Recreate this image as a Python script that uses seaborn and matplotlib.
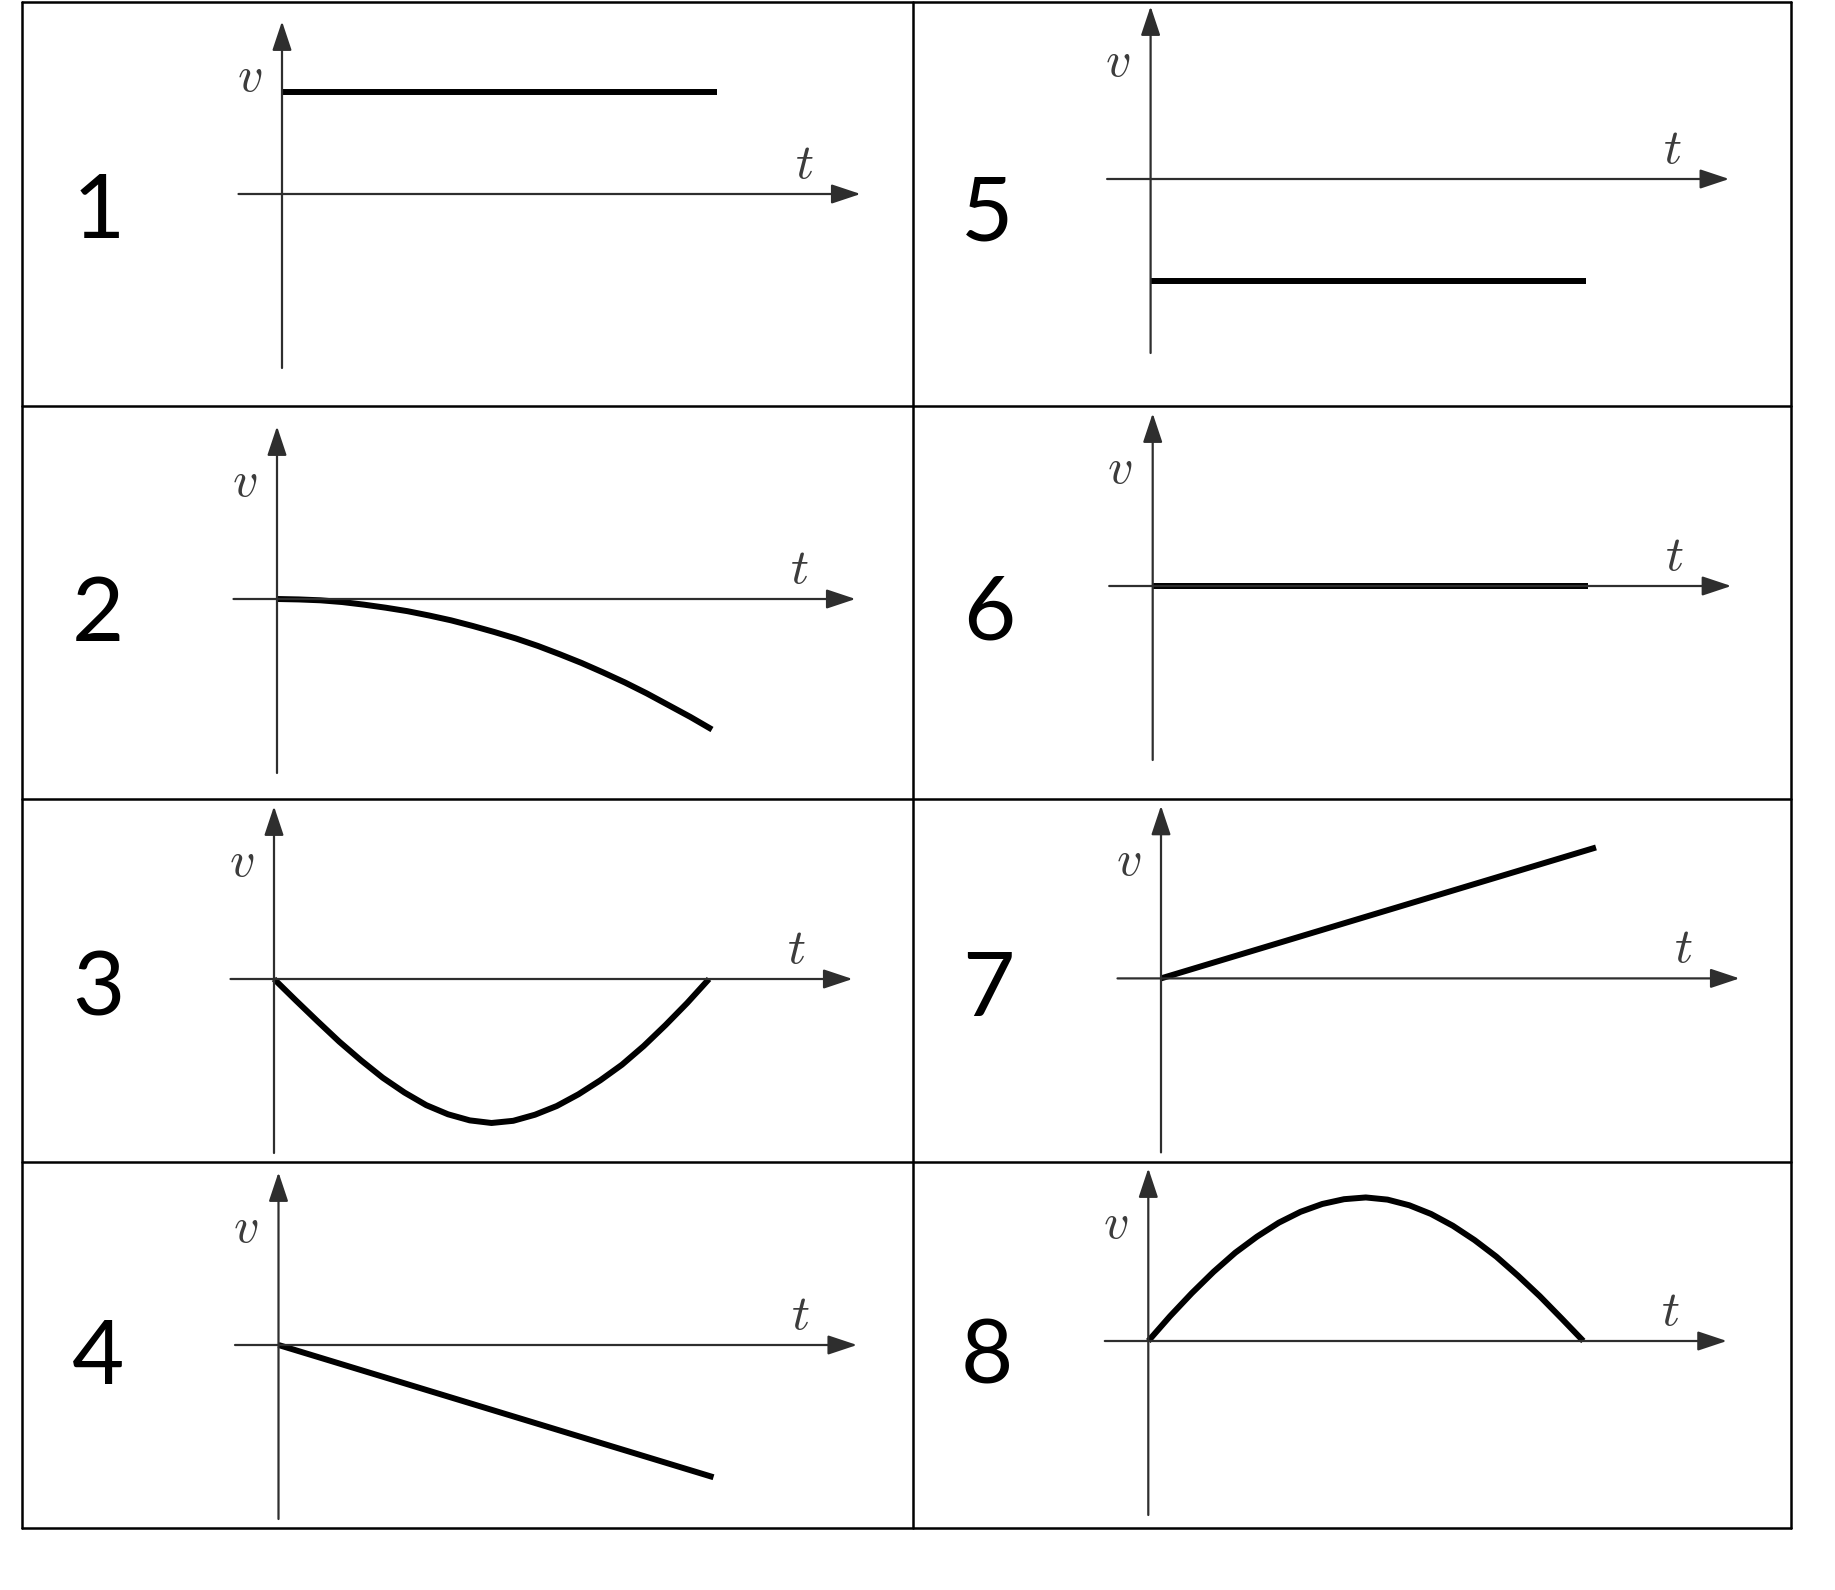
import numpy as np
import pandas as pd
import matplotlib.pyplot as plt
from matplotlib.lines import Line2D
import seaborn as sns

# --- data (t and v in the same units) ---
t_line = [0.0, 1.0]
v_case1 = [0.234, 0.234]
v_case5 = [-0.235, -0.235]
v_case6 = [0.0, 0.0]
v_case7 = [0.0, 0.301]
v_case4 = [0.0, -0.304]

t_curve = [0.0, 0.05, 0.1, 0.15, 0.2, 0.25, 0.3, 0.35, 0.4, 0.45, 0.5,
           0.55, 0.6, 0.65, 0.7, 0.75, 0.8, 0.85, 0.9, 0.95, 1.0]
v_case2 = [0.0, -0.001, -0.003, -0.007, -0.013, -0.020, -0.028, -0.038, -0.049, -0.062, -0.076,
           -0.091, -0.108, -0.127, -0.147, -0.169, -0.192, -0.217, -0.244, -0.271, -0.300]
v_case3 = [0.0, -0.049, -0.097, -0.144, -0.187, -0.227, -0.261, -0.290, -0.311, -0.325, -0.331,
           -0.326, -0.312, -0.292, -0.265, -0.233, -0.197, -0.154, -0.106, -0.055, 0.0]
v_case8 = [0.0, 0.057, 0.110, 0.159, 0.203, 0.240, 0.272, 0.297, 0.315, 0.326, 0.330,
           0.325, 0.312, 0.292, 0.265, 0.232, 0.194, 0.150, 0.103, 0.052, 0.0]

case_labels = ['1', '2', '3', '4', '5', '6', '7', '8']
case_t = [t_line, t_curve, t_curve, t_line, t_line, t_line, t_line, t_curve]
case_v = [v_case1, v_case2, v_case3, v_case4, v_case5, v_case6, v_case7, v_case8]

# --- layout (pixels of the 1835x1590 canvas) ---
W, H = 1835, 1590
UNIT = 435.0                      # px per data unit
origins = [(282, 194), (277, 599), (274, 979), (278.5, 1345),
           (1150.6, 179), (1152.7, 586), (1161, 978.4), (1148.3, 1341)]
label_pos = [(99, 238.5), (98, 641), (98, 1015.5), (98, 1384),
             (987, 240.5), (989, 639), (988, 1015.5), (987, 1384)]
table_x = [22, 913, 1791]
table_y = [1.5, 406, 799, 1162, 1528]

X_LO, X_HI = -0.1, 1.34
Y_LO, Y_HI = -0.40, 0.40

sns.set_theme(style='white')
plt.rcParams['mathtext.fontset'] = 'cm'
plt.rcParams['font.family'] = ['Lato', 'DejaVu Sans']

fig = plt.figure(figsize=(W / 100, H / 100), dpi=100)
fig.patch.set_facecolor('white')

# table grid
for x in table_x:
    fig.add_artist(Line2D([x / W, x / W], [1 - table_y[0] / H, 1 - table_y[-1] / H],
                          transform=fig.transFigure, color='black', lw=1.8))
for y in table_y:
    fig.add_artist(Line2D([table_x[0] / W, table_x[-1] / W], [1 - y / H, 1 - y / H],
                          transform=fig.transFigure, color='black', lw=1.8))

axis_color = '#2e2e2e'
arrow = dict(arrowstyle='-|>,head_length=0.9,head_width=0.3', color=axis_color,
             lw=1.6, mutation_scale=20, shrinkA=0, shrinkB=0)

for lab, t, v, (ox, oy), (lx, ly) in zip(case_labels, case_t, case_v, origins, label_pos):
    left = ox + X_LO * UNIT
    bottom = oy - Y_LO * UNIT
    ax = fig.add_axes([left / W, 1 - bottom / H,
                       (X_HI - X_LO) * UNIT / W, (Y_HI - Y_LO) * UNIT / H])

    # coordinate axes with arrows
    ax.annotate('', xy=(1.33, 0), xytext=(-0.1, 0), arrowprops=arrow, annotation_clip=False)
    ax.annotate('', xy=(0, 0.397), xytext=(0, -0.40), arrowprops=arrow, annotation_clip=False)

    df = pd.DataFrame({'t': t, 'v': v})
    sns.lineplot(data=df, x='t', y='v', ax=ax, color='black', lw=4.3,
                 sort=False, estimator=None, clip_on=False,
                 solid_joinstyle='round', solid_capstyle='butt')
    ax.set_xlim(X_LO, X_HI)
    ax.set_ylim(Y_LO, Y_HI)
    ax.axis('off')

    ax.text(-0.075, 0.27, r'$v$', fontsize=36, color='#3c3c3c', ha='center', va='center')
    ax.text(1.20, 0.07, r'$t$', fontsize=36, color='#3c3c3c', ha='center', va='center')

    fig.text(lx / W, 1 - ly / H, lab, fontsize=65, color='black',
             ha='center', va='baseline')

plt.savefig('out.png', dpi=100, facecolor='white')
